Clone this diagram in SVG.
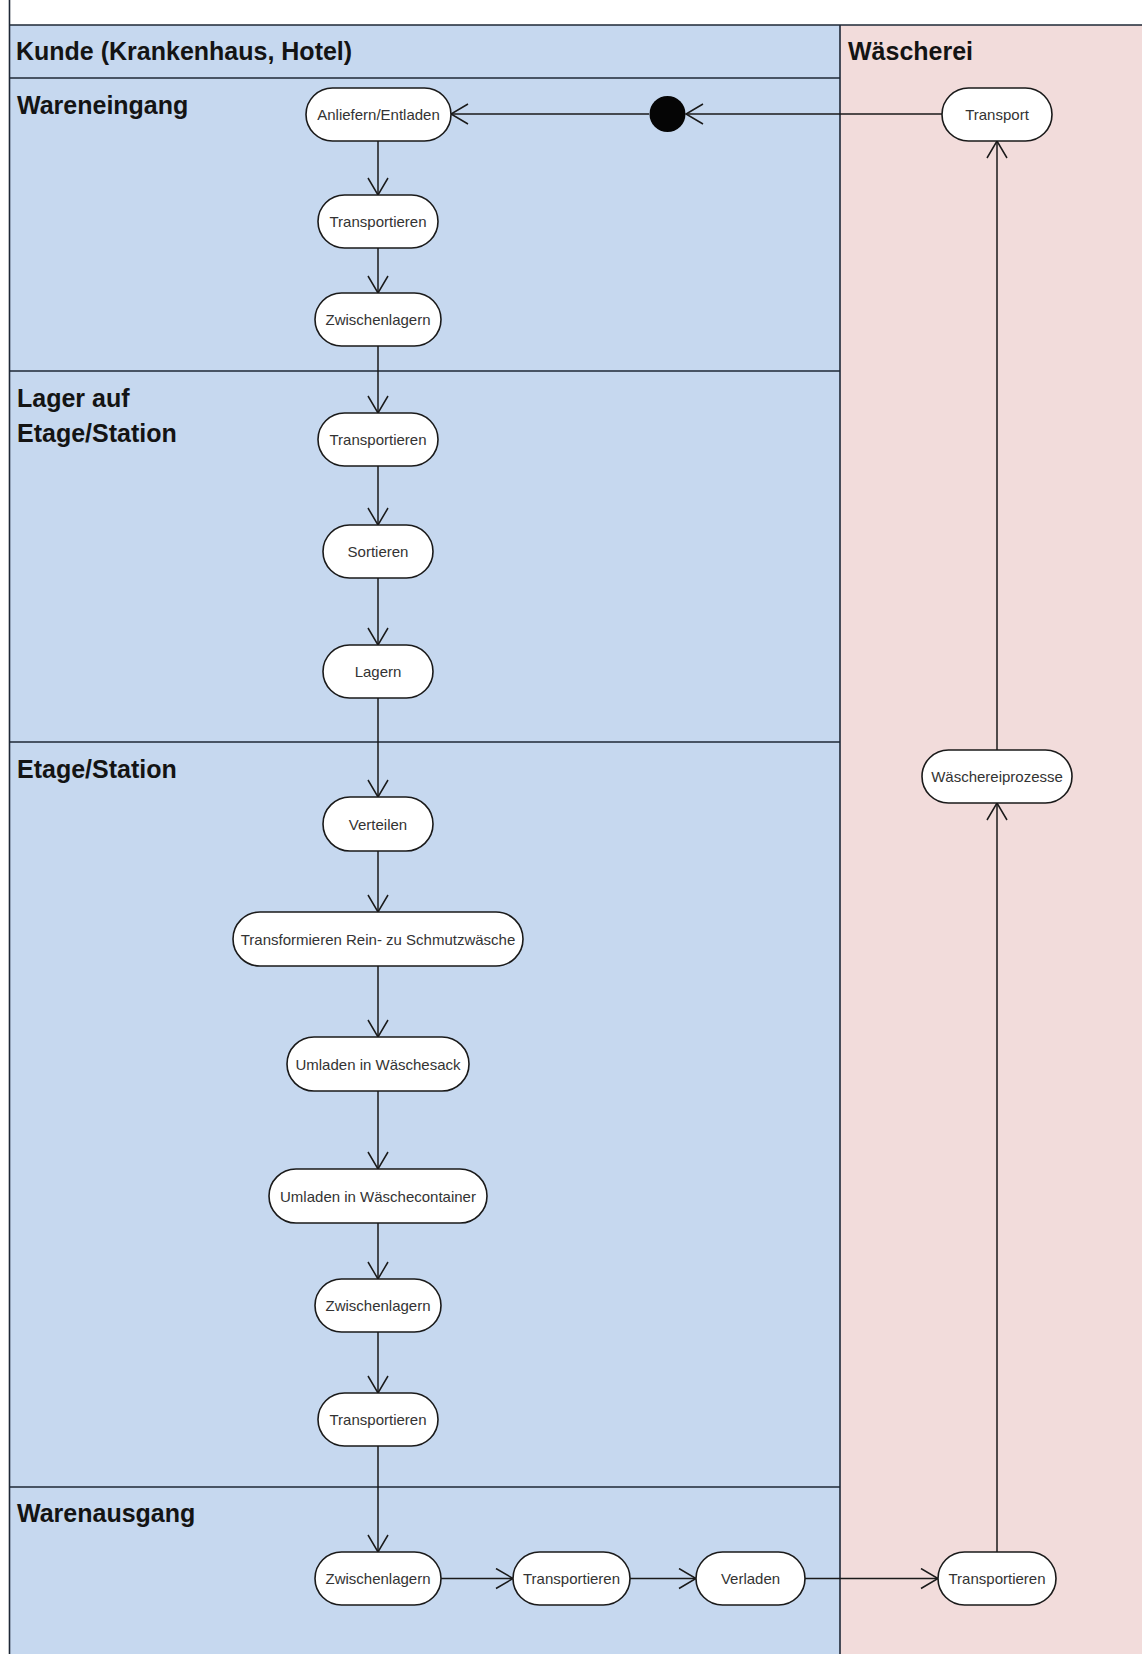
<svg xmlns="http://www.w3.org/2000/svg" width="1142" height="1654" viewBox="0 0 1142 1654">
<style>
.lane-title{font-family:"Liberation Sans",Arial,sans-serif;font-weight:bold;font-size:25px;fill:#141414}
.node rect{fill:#ffffff;stroke:#1a1a1a;stroke-width:1.6}
.node text{font-family:"Liberation Sans",Arial,sans-serif;font-size:15px;fill:#333333;text-anchor:middle;dominant-baseline:central}
.border{stroke:#1e2836;stroke-width:1.6;fill:none}
.conn line{stroke:#1a1a1a;stroke-width:1.5;marker-end:url(#arr)}
</style>
<defs>
<marker id="arr" viewBox="-19 -11 21 22" markerWidth="21" markerHeight="22" refX="0" refY="0" orient="auto" markerUnits="userSpaceOnUse">
<path d="M-17,-10 L0,0 L-17,10" fill="none" stroke="#1a1a1a" stroke-width="1.5"/>
</marker>
</defs>
<rect x="0" y="0" width="1142" height="1654" fill="#ffffff"/>
<g id="lanes">
<rect x="9.5" y="25" width="830.5" height="1629" fill="#c6d8ef"/>
<rect x="840" y="25" width="302" height="1629" fill="#f2dcdb"/>
<line class="border" x1="9.5" y1="0" x2="9.5" y2="1654"/>
<line class="border" x1="9.5" y1="25" x2="1142" y2="25"/>
<line class="border" x1="840" y1="25" x2="840" y2="1654"/>
<line class="border" x1="9.5" y1="78" x2="840" y2="78"/>
<line class="border" x1="9.5" y1="371" x2="840" y2="371"/>
<line class="border" x1="9.5" y1="742" x2="840" y2="742"/>
<line class="border" x1="9.5" y1="1487" x2="840" y2="1487"/>
<text class="lane-title" x="16" y="60">Kunde (Krankenhaus, Hotel)</text>
<text class="lane-title" x="848" y="60">Wäscherei</text>
<text class="lane-title" x="17" y="114">Wareneingang</text>
<text class="lane-title" x="17" y="407">Lager auf</text>
<text class="lane-title" x="17" y="442">Etage/Station</text>
<text class="lane-title" x="17" y="778">Etage/Station</text>
<text class="lane-title" x="17" y="1522">Warenausgang</text>
</g>
<g id="connectors" class="conn">
<line x1="942" y1="114" x2="686" y2="114"/>
<line x1="649" y1="114" x2="451" y2="114"/>
<line x1="378" y1="141" x2="378" y2="195"/>
<line x1="378" y1="248" x2="378" y2="293"/>
<line x1="378" y1="346" x2="378" y2="413"/>
<line x1="378" y1="466" x2="378" y2="525"/>
<line x1="378" y1="578" x2="378" y2="645"/>
<line x1="378" y1="698" x2="378" y2="797"/>
<line x1="378" y1="851" x2="378" y2="912"/>
<line x1="378" y1="966" x2="378" y2="1037"/>
<line x1="378" y1="1091" x2="378" y2="1169"/>
<line x1="378" y1="1223" x2="378" y2="1279"/>
<line x1="378" y1="1332" x2="378" y2="1393"/>
<line x1="378" y1="1446" x2="378" y2="1552"/>
<line x1="441" y1="1578.5" x2="513" y2="1578.5"/>
<line x1="630" y1="1578.5" x2="696" y2="1578.5"/>
<line x1="805" y1="1578.5" x2="938" y2="1578.5"/>
<line x1="997" y1="1552" x2="997" y2="803"/>
<line x1="997" y1="750" x2="997" y2="141"/>
</g>
<g id="start">
<circle cx="667.5" cy="114" r="18" fill="#050505"/>
</g>
<g id="n-anliefern" class="node"><rect x="306" y="88" width="145" height="53" rx="26.5"/><text x="378.5" y="114.5">Anliefern/Entladen</text></g>
<g id="n-transportieren1" class="node"><rect x="318" y="195" width="120" height="53" rx="26.5"/><text x="378" y="221.5">Transportieren</text></g>
<g id="n-zwischenlagern1" class="node"><rect x="315" y="293" width="126" height="53" rx="26.5"/><text x="378" y="319.5">Zwischenlagern</text></g>
<g id="n-transportieren2" class="node"><rect x="318" y="413" width="120" height="53" rx="26.5"/><text x="378" y="439.5">Transportieren</text></g>
<g id="n-sortieren" class="node"><rect x="323" y="525" width="110" height="53" rx="26.5"/><text x="378" y="551.5">Sortieren</text></g>
<g id="n-lagern" class="node"><rect x="323" y="645" width="110" height="53" rx="26.5"/><text x="378" y="671.5">Lagern</text></g>
<g id="n-verteilen" class="node"><rect x="323" y="797" width="110" height="54" rx="27"/><text x="378" y="824">Verteilen</text></g>
<g id="n-transformieren" class="node"><rect x="233" y="912" width="290" height="54" rx="27"/><text x="378" y="939">Transformieren Rein- zu Schmutzwäsche</text></g>
<g id="n-umladen-sack" class="node"><rect x="287" y="1037" width="182" height="54" rx="27"/><text x="378" y="1064">Umladen in Wäschesack</text></g>
<g id="n-umladen-container" class="node"><rect x="269" y="1169" width="218" height="54" rx="27"/><text x="378" y="1196">Umladen in Wäschecontainer</text></g>
<g id="n-zwischenlagern2" class="node"><rect x="315" y="1279" width="126" height="53" rx="26.5"/><text x="378" y="1305.5">Zwischenlagern</text></g>
<g id="n-transportieren3" class="node"><rect x="318" y="1393" width="120" height="53" rx="26.5"/><text x="378" y="1419.5">Transportieren</text></g>
<g id="n-zwischenlagern3" class="node"><rect x="315" y="1552" width="126" height="53" rx="26.5"/><text x="378" y="1578.5">Zwischenlagern</text></g>
<g id="n-transportieren4" class="node"><rect x="513" y="1552" width="117" height="53" rx="26.5"/><text x="571.5" y="1578.5">Transportieren</text></g>
<g id="n-verladen" class="node"><rect x="696" y="1552" width="109" height="53" rx="26.5"/><text x="750.5" y="1578.5">Verladen</text></g>
<g id="n-transportieren5" class="node"><rect x="938" y="1552" width="118" height="53" rx="26.5"/><text x="997" y="1578.5">Transportieren</text></g>
<g id="n-waeschereiprozesse" class="node"><rect x="922" y="750" width="150" height="53" rx="26.5"/><text x="997" y="776.5">Wäschereiprozesse</text></g>
<g id="n-transport" class="node"><rect x="942" y="88" width="110" height="53" rx="26.5"/><text x="997" y="114.5">Transport</text></g>
</svg>
